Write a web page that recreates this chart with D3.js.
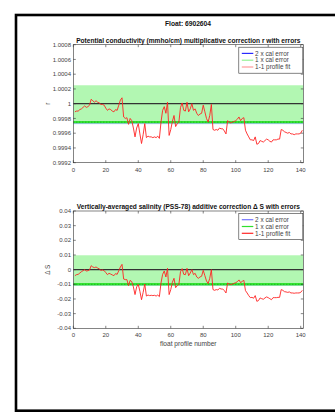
<!DOCTYPE html>
<html><head><meta charset="utf-8">
<script src="https://cdn.jsdelivr.net/npm/d3@7"></script>
<style>body{margin:0;background:#fff}svg{display:block}text{font-family:"Liberation Sans",Arial,sans-serif}</style>
</head><body><svg id="c" width="335" height="412"></svg>
<script>
const figureTitle = "Float: 6902604";
const panelTitles = [
  "Potential conductivity (mmho/cm) multiplicative correction r with errors",
  "Vertically-averaged salinity (PSS-78) additive correction \u0394 S with errors"
];
const yLabels = ["r", "\u0394 S"];
const xLabel = "float profile number";
const legendLabels = ["2 x cal error", "1 x cal error", "1-1 profile fit"];
const profileNumbers = d3.range(1, 142);
const rCorrection = [
0.99989,0.99990,0.99990,0.99992,0.99993,0.99995,0.99997,0.99995,0.99996,0.99998,
1.00006,1.00004,1.00002,1.00004,1.00002,1.00001,0.99999,0.99999,0.99998,0.99994,
0.99991,0.99993,0.99992,0.99990,0.99989,0.99992,0.99991,0.99998,1.00005,1.00008,
0.99982,0.99980,0.99981,0.99972,0.99980,0.99977,0.99967,0.99955,0.99967,0.99973,
0.99959,0.99946,0.99958,0.99973,0.99954,0.99956,0.99955,0.99955,0.99954,0.99955,
0.99954,0.99956,0.99953,0.99975,0.99991,0.99996,0.99987,1.00002,0.99957,0.99965,
0.99976,0.99984,0.99969,0.99973,0.99975,0.99995,1.00001,0.99991,0.99990,1.00002,
0.99989,0.99993,1.00000,0.99991,0.99993,0.99987,0.99984,0.99986,0.99987,0.99998,
0.99989,0.99980,0.99975,0.99984,0.99999,0.99965,0.99964,0.99965,0.99964,0.99967,
0.99966,0.99966,0.99963,0.99959,0.99977,0.99975,0.99974,0.99975,0.99976,0.99977,
0.99979,0.99982,0.99977,0.99980,0.99981,0.99964,0.99959,0.99955,0.99951,0.99951,
0.99950,0.99955,0.99945,0.99946,0.99950,0.99949,0.99948,0.99950,0.99952,0.99951,
0.99949,0.99948,0.99951,0.99951,0.99951,0.99952,0.99952,0.99965,0.99964,0.99962,
0.99961,0.99960,0.99961,0.99959,0.99959,0.99958,0.99959,0.99959,0.99959,0.99960,
0.99964];
const salinityCorrection = [
-0.0041,-0.0034,-0.0032,-0.0023,-0.0014,-0.0007,0.0000,-0.0009,-0.0007,-0.0002,
0.0027,0.0018,0.0014,0.0018,0.0011,0.0005,-0.0005,-0.0002,-0.0007,-0.0020,
-0.0034,-0.0025,-0.0030,-0.0036,-0.0041,-0.0027,-0.0032,-0.0007,0.0018,0.0036,
-0.0064,-0.0068,-0.0068,-0.0109,-0.0073,-0.0082,-0.0118,-0.0170,-0.0118,-0.0100,
-0.0148,-0.0205,-0.0155,-0.0098,-0.0180,-0.0173,-0.0177,-0.0175,-0.0177,-0.0175,
-0.0180,-0.0173,-0.0184,-0.0091,-0.0032,-0.0009,-0.0050,0.0009,-0.0170,-0.0136,
-0.0086,-0.0059,-0.0123,-0.0109,-0.0100,-0.0014,0.0007,-0.0032,-0.0034,0.0009,
-0.0041,-0.0023,0.0000,-0.0034,-0.0025,-0.0050,-0.0059,-0.0050,-0.0045,-0.0005,
-0.0041,-0.0077,-0.0095,-0.0059,0.0000,-0.0136,-0.0141,-0.0136,-0.0139,-0.0127,
-0.0132,-0.0132,-0.0143,-0.0159,-0.0091,-0.0098,-0.0102,-0.0098,-0.0093,-0.0089,
-0.0082,-0.0070,-0.0089,-0.0080,-0.0073,-0.0143,-0.0159,-0.0177,-0.0191,-0.0189,
-0.0195,-0.0177,-0.0216,-0.0211,-0.0193,-0.0198,-0.0202,-0.0193,-0.0186,-0.0191,
-0.0198,-0.0205,-0.0191,-0.0191,-0.0191,-0.0189,-0.0189,-0.0136,-0.0141,-0.0150,
-0.0152,-0.0155,-0.0152,-0.0159,-0.0159,-0.0161,-0.0159,-0.0159,-0.0159,-0.0155,
-0.0141];
const xTicks = [0, 20, 40, 60, 80, 100, 120, 140];
const rTicks = [0.9992, 0.9994, 0.9996, 0.9998, 1, 1.0002, 1.0004, 1.0006, 1.0008];
const sTicks = [-0.04, -0.03, -0.02, -0.01, 0, 0.01, 0.02, 0.03, 0.04];
const xDomain = [0, 141.6];
const rDomain = [0.9992, 1.0008];
const sDomain = [-0.04, 0.04];
// cal error band: [upper, lower, 1x line, 2x line]
const rCalError = [1.00025, 0.99973, 0.99975, 0.99973];
const sCalError = [0.0098, -0.0105, -0.0100, -0.0105];
const rReference = 1;
const sReference = 0;

const svg = d3.select("#c");
svg.append("rect").attr("x", 16).attr("y", 15).attr("width", 330).attr("height", 395.7)
  .attr("fill", "none").attr("stroke", "#000").attr("stroke-width", 2.6);
svg.append("text").attr("x", 188).attr("y", 25.5).attr("text-anchor", "middle")
  .attr("font-size", 6.7).attr("font-weight", "bold").attr("fill", "#111").text(figureTitle);

const L = 73.3, R = 303.3;
const x = d3.scaleLinear().domain(xDomain).range([L, R]);

const panels = [
  {top: 44.7, bottom: 162.7, domain: rDomain, ticks: rTicks, fmt: d => String(+d.toFixed(4)),
   data: rCorrection, cal: rCalError, ref: rReference, title: panelTitles[0], ylab: yLabels[0],
   legendColors: ["#2a2aff", "#94f294", "#ff9b9b"], xlab: false},
  {top: 211, bottom: 328.3, domain: sDomain, ticks: sTicks, fmt: d => String(+d.toFixed(2)),
   data: salinityCorrection, cal: sCalError, ref: sReference, title: panelTitles[1], ylab: yLabels[1],
   legendColors: ["#7474ff", "#2fe02f", "#ff2626"], xlab: true}
];

panels.forEach(p => {
  const y = d3.scaleLinear().domain(p.domain).range([p.bottom, p.top]);
  const g = svg.append("g");
  const clipId = "clip" + Math.round(p.top);
  svg.append("clipPath").attr("id", clipId).append("rect")
    .attr("x", L).attr("y", p.top).attr("width", R - L).attr("height", p.bottom - p.top);
  const pg = g.append("g").attr("clip-path", `url(#${clipId})`);
  pg.append("rect").attr("x", L).attr("width", R - L)
    .attr("y", y(p.cal[0])).attr("height", y(p.cal[1]) - y(p.cal[0]))
    .attr("fill", "#b2f7b2");
  pg.append("line").attr("x1", L).attr("x2", R).attr("y1", y(p.cal[3])).attr("y2", y(p.cal[3]))
    .attr("stroke", "#a7b9ff").attr("stroke-width", 1);
  pg.append("line").attr("x1", L).attr("x2", R).attr("y1", y(p.cal[2])).attr("y2", y(p.cal[2]))
    .attr("stroke", "#33e633").attr("stroke-width", 2.4);
  pg.append("line").attr("x1", L).attr("x2", R).attr("y1", y(p.cal[2])).attr("y2", y(p.cal[2]))
    .attr("stroke", "#1b9c1b").attr("stroke-width", 1).attr("stroke-dasharray", "1,2");
  pg.append("line").attr("x1", L).attr("x2", R).attr("y1", y(p.ref)).attr("y2", y(p.ref))
    .attr("stroke", "#333").attr("stroke-width", 1.3);
  const line = d3.line().x((d, i) => x(profileNumbers[i])).y(d => y(d));
  pg.append("path").datum(p.data).attr("d", line).attr("fill", "none")
    .attr("stroke", "#ff2222").attr("stroke-width", 0.9).attr("stroke-linejoin", "round");

  const tickLen = 2.5;
  const ax = g.append("g").attr("stroke", "#333").attr("stroke-width", 0.6);
  ax.append("rect").attr("x", L).attr("y", p.top).attr("width", R - L).attr("height", p.bottom - p.top)
    .attr("fill", "none");
  xTicks.forEach(t => {
    ax.append("line").attr("x1", x(t)).attr("x2", x(t)).attr("y1", p.bottom).attr("y2", p.bottom - tickLen);
    ax.append("line").attr("x1", x(t)).attr("x2", x(t)).attr("y1", p.top).attr("y2", p.top + tickLen);
  });
  p.ticks.forEach(t => {
    ax.append("line").attr("x1", L).attr("x2", L + tickLen).attr("y1", y(t)).attr("y2", y(t));
    ax.append("line").attr("x1", R).attr("x2", R - tickLen).attr("y1", y(t)).attr("y2", y(t));
  });
  const tl = g.append("g").attr("font-size", 6).attr("fill", "#444");
  xTicks.forEach(t => {
    tl.append("text").attr("x", x(t)).attr("y", p.bottom + 8.8).attr("text-anchor", "middle").text(t);
  });
  p.ticks.forEach(t => {
    tl.append("text").attr("x", L - 2.3).attr("y", y(t)).attr("dy", "0.35em")
      .attr("text-anchor", "end").text(p.fmt(t));
  });
  g.append("text").attr("x", (L + R) / 2).attr("y", p.top - 2.2).attr("text-anchor", "middle")
    .attr("font-size", 6.6).attr("font-weight", "bold").attr("fill", "#111").text(p.title);
  const ly = (p.top + p.bottom) / 2;
  g.append("text").attr("transform", `translate(50,${ly}) rotate(-90)`).attr("text-anchor", "middle")
    .attr("font-size", 6.4).attr("fill", "#444").text(p.ylab);
  if (p.xlab) {
    g.append("text").attr("x", (L + R) / 2).attr("y", p.bottom + 18).attr("text-anchor", "middle")
      .attr("font-size", 6.6).attr("fill", "#444").text(xLabel);
  }
  const lx = 238.8, lyTop = p.top + 2.5, lw = 64, lh = 26;
  const lg = g.append("g");
  lg.append("rect").attr("x", lx).attr("y", lyTop).attr("width", lw).attr("height", lh)
    .attr("fill", "#fff").attr("stroke", "#333").attr("stroke-width", 0.6);
  legendLabels.forEach((lab, i) => {
    const yy = lyTop + 6.2 + i * 6.8;
    lg.append("line").attr("x1", lx + 3).attr("x2", lx + 14.5).attr("y1", yy).attr("y2", yy)
      .attr("stroke", p.legendColors[i]).attr("stroke-width", 1.2);
    lg.append("text").attr("x", lx + 16.3).attr("y", yy).attr("dy", "0.35em")
      .attr("font-size", 6.4).attr("fill", "#444").text(lab);
  });
});
</script></body></html>
